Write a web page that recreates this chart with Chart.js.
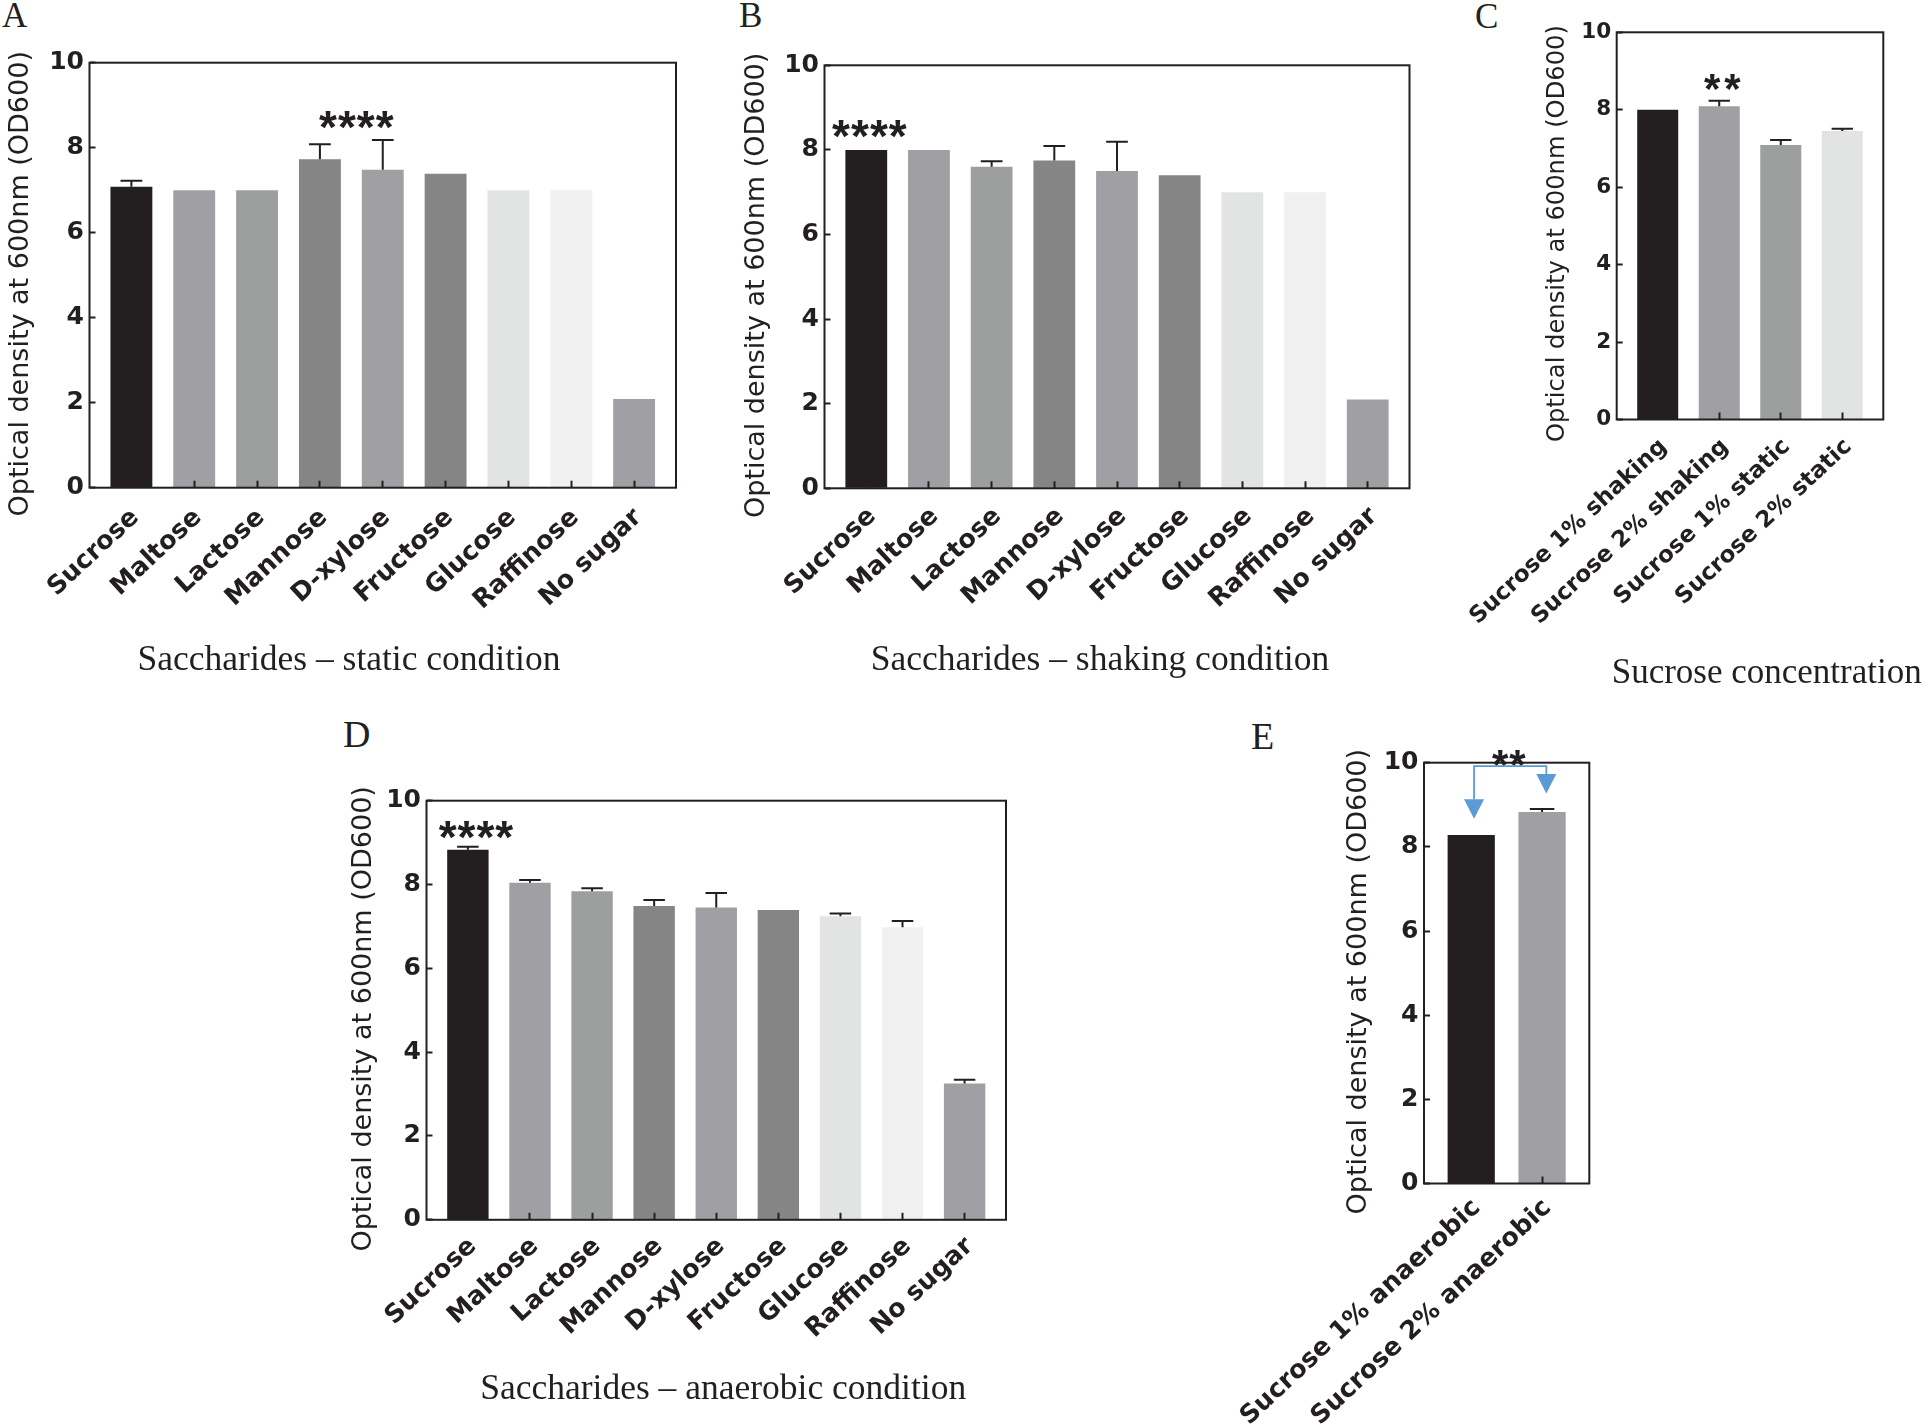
<!DOCTYPE html>
<html>
<head>
<meta charset="utf-8">
<script src="https://cdn.jsdelivr.net/npm/chart.js@4.4.1/dist/chart.umd.min.js"></script>
<style>
html, body { margin: 0; padding: 0; background: #ffffff; overflow: hidden; width: 1925px; height: 1426px; position: relative; }
canvas { position: absolute; }
.letter { position: absolute; font-family: "Liberation Serif", "Times New Roman", serif; color: #231f20; line-height: 1; white-space: nowrap; }
</style>
</head>
<body>
<div class="letter" id="letterA">A</div>
<div class="letter" id="letterB">B</div>
<div class="letter" id="letterC">C</div>
<div class="letter" id="letterD">D</div>
<div class="letter" id="letterE">E</div>
<canvas id="chartA"></canvas>
<canvas id="chartB"></canvas>
<canvas id="chartC"></canvas>
<canvas id="chartD"></canvas>
<canvas id="chartE"></canvas>
<script>
// ---------------- DATA ----------------
const sugarCategories = ['Sucrose', 'Maltose', 'Lactose', 'Mannose', 'D-xylose', 'Fructose', 'Glucose', 'Raffinose', 'No sugar'];

const staticValues = [7.08, 7.0, 7.0, 7.73, 7.48, 7.39, 7.0, 7.0, 2.09];
const staticErrors = [0.14, 0, 0, 0.35, 0.70, 0, 0, 0, 0];

const shakingValues = [8.0, 8.0, 7.6, 7.75, 7.5, 7.4, 7.0, 7.0, 2.1];
const shakingErrors = [0, 0, 0.13, 0.34, 0.69, 0, 0, 0, 0];

const concentrationCategories = ['Sucrose 1% shaking', 'Sucrose 2% shaking', 'Sucrose 1% static', 'Sucrose 2% static'];
const concentrationValues = [8.0, 8.09, 7.09, 7.45];
const concentrationErrors = [0, 0.14, 0.13, 0.06];

const anaerobicValues = [8.83, 8.04, 7.84, 7.49, 7.45, 7.39, 7.24, 6.98, 3.25];
const anaerobicErrors = [0.07, 0.07, 0.07, 0.14, 0.35, 0, 0.07, 0.15, 0.09];

const anaerobicSucroseCategories = ['Sucrose 1% anaerobic', 'Sucrose 2% anaerobic'];
const anaerobicSucroseValues = [8.28, 8.83];
const anaerobicSucroseErrors = [0, 0.07];

const yTickValues = [0, 2, 4, 6, 8, 10];
const yAxisTitle = 'Optical density at 600nm (OD600)';

// significance marks (data units: category index, OD value)
const staticSig = [{ text: '****', x: 3.58, y: 8.73 }];
const shakingSig = [{ text: '****', x: 0.05, y: 8.59 }];
const concentrationSig = [{ text: '**', x: 1.05, y: 8.81 }];
const anaerobicSig = [{ text: '****', x: 0.13, y: 9.38 }];
const anaerobicSucroseSig = [{ text: '**', x: 0.53, y: 10.2 }];
// comparison bracket in panel E (data units)
const anaerobicBracket = { y: 9.92, from: 0.04, to: 1.06, leftTop: 9.13, leftTip: 8.67, rightTop: 9.73, rightTip: 9.27 };

// ---------------- STYLE ----------------
const INK = '#231f20';
const BLUE = '#5b9bd5';
const SANS = '"DejaVu Sans", "Liberation Sans", Arial, sans-serif';
const STAR = '"Liberation Sans", Arial, sans-serif';
const SERIF = '"Liberation Serif", "Times New Roman", serif';
const sugarColors = ['#231f20', '#a09fa4', '#9d9f9e', '#858585', '#a09fa4', '#858585', '#e2e3e3', '#eff0ef', '#a09fa4'];
const concentrationColors = ['#231f20', '#a09fa4', '#9d9f9e', '#e2e3e3'];
const anaerobicSucroseColors = ['#231f20', '#a09fa4'];

// ---------------- PLUGINS ----------------
const framePlugin = {
  id: 'frame',
  afterDraw(chart) {
    const a = chart.chartArea, ctx = chart.ctx;
    ctx.save();
    ctx.strokeStyle = INK; ctx.lineWidth = 2;
    ctx.strokeRect(a.left, a.top, a.right - a.left, a.bottom - a.top);
    ctx.restore();
  }
};

const errorBarPlugin = {
  id: 'errorBars',
  afterDatasetsDraw(chart) {
    const ds = chart.data.datasets[0];
    const meta = chart.getDatasetMeta(0);
    const ys = chart.scales.y;
    const ctx = chart.ctx;
    ctx.save();
    ctx.strokeStyle = INK; ctx.lineWidth = 2;
    meta.data.forEach((bar, i) => {
      const e = ds.errors[i];
      if (!e) return;
      const top = ys.getPixelForValue(ds.data[i].y + e);
      const half = bar.width * 0.26;
      ctx.beginPath();
      ctx.moveTo(bar.x, bar.y); ctx.lineTo(bar.x, top);
      ctx.moveTo(bar.x - half, top); ctx.lineTo(bar.x + half, top);
      ctx.stroke();
    });
    ctx.restore();
  }
};

const sigPlugin = {
  id: 'sigMarks',
  afterDraw(chart, args, opts) {
    const marks = opts.marks || [];
    const xs = chart.scales.x, ys = chart.scales.y, ctx = chart.ctx;
    ctx.save();
    ctx.fillStyle = INK;
    ctx.font = 'bold ' + opts.size + 'px ' + STAR;
    if ('letterSpacing' in ctx) ctx.letterSpacing = opts.spacing + 'px';
    ctx.textAlign = 'center';
    ctx.textBaseline = 'alphabetic';
    marks.forEach(m => {
      ctx.fillText(m.text, xs.getPixelForValue(m.x) + opts.spacing / 2, ys.getPixelForValue(m.y) + 0.58 * opts.size);
    });
    if ('letterSpacing' in ctx) ctx.letterSpacing = '0px';
    const br = opts.bracket;
    if (br) {
      const y0 = ys.getPixelForValue(br.y);
      const xl = xs.getPixelForValue(br.from), xr = xs.getPixelForValue(br.to);
      ctx.strokeStyle = BLUE; ctx.fillStyle = BLUE; ctx.lineWidth = 1.8;
      ctx.beginPath();
      ctx.moveTo(xl, ys.getPixelForValue(br.leftTop)); ctx.lineTo(xl, y0); ctx.lineTo(xr, y0); ctx.lineTo(xr, ys.getPixelForValue(br.rightTop));
      ctx.stroke();
      const tri = (x, t, b) => {
        const yt = ys.getPixelForValue(t), yb = ys.getPixelForValue(b);
        ctx.beginPath(); ctx.moveTo(x - 10, yt); ctx.lineTo(x + 10, yt); ctx.lineTo(x, yb); ctx.closePath(); ctx.fill();
      };
      tri(xl, br.leftTop, br.leftTip);
      tri(xr, br.rightTop, br.rightTip);
    }
    ctx.restore();
  }
};

function noPad(s) { s.paddingLeft = 0; s.paddingRight = 0; s.paddingTop = 0; s.paddingBottom = 0; }

// ---------------- PANEL BUILDER ----------------
function buildPanel(id, p) {
  const { L, R, T, B } = p.frame;
  const lhY = p.yTitleSize * 1.2;
  const S = p.yTitleX - lhY / 2;
  let TR = R, lhC = 0, hX = p.xAxisHeight;
  if (p.caption) {
    TR = 2 * p.caption.x - S;
    lhC = p.caption.size * 1.2;
    hX = p.caption.mid - lhC / 2 - B;
  }
  const wR = TR - R;
  const x0 = Math.floor(S) - (p.extraLeft || 0), y0 = Math.floor(T - p.padTop);
  const W = Math.ceil(TR) - x0 + 1;
  const H = Math.ceil(B + hX + lhC + p.padBottom) - y0;
  const padding = { left: S - x0, right: x0 + W - TR, top: T - y0, bottom: (y0 + H) - (B + hX + lhC) };

  const canvas = document.getElementById(id);
  canvas.width = W; canvas.height = H;
  canvas.style.left = x0 + 'px'; canvas.style.top = y0 + 'px';
  canvas.style.width = W + 'px'; canvas.style.height = H + 'px';

  const cats = p.categories;
  const scales = {
    x: {
      type: 'linear', position: 'bottom', bounds: 'data', offset: false,
      min: -2 / 3, max: cats.length - 1 + 2 / 3,
      afterBuildTicks: s => { s.ticks = cats.map((c, i) => ({ value: i })); },
      afterFit: s => { s.height = hX; noPad(s); },
      grid: { display: true, offset: false, drawOnChartArea: false, drawTicks: true, tickLength: -7, tickWidth: 2, tickColor: INK, z: 1 },
      border: { display: false },
      ticks: {
        autoSkip: false, maxRotation: 43, minRotation: 43,
        labelOffset: p.labelOffset, padding: p.labelPad, color: INK,
        font: { family: SANS, weight: 'bold', size: p.labelSize },
        callback: (v, i) => cats[i]
      }
    },
    y: {
      type: 'linear', position: 'left', min: 0, max: 10,
      afterBuildTicks: s => { s.ticks = yTickValues.map(v => ({ value: v })); },
      afterFit: s => { s.width = L - S; noPad(s); },
      grid: { display: true, drawOnChartArea: false, drawTicks: true, tickLength: -6, tickWidth: 2, tickColor: INK, z: 1 },
      border: { display: false },
      ticks: { padding: 11.5, color: INK, font: { family: SANS, weight: 'bold', size: p.tickSize } },
      title: {
        display: true, text: yAxisTitle + '  ', color: INK,
        font: { family: SANS, size: p.yTitleSize, weight: 'normal', lineHeight: 1.2 },
        padding: { top: 0, bottom: 0 }
      }
    }
  };
  if (wR > 0.5) {
    scales.yR = {
      type: 'linear', position: 'right', display: true,
      afterFit: s => { s.width = wR; noPad(s); },
      grid: { display: false }, border: { display: false }, ticks: { display: false }
    };
  }

  return new Chart(canvas, {
    type: 'bar',
    data: {
      datasets: [{
        data: p.values.map((v, i) => ({ x: i, y: v })),
        errors: p.errors,
        backgroundColor: p.colors,
        borderWidth: 0,
        categoryPercentage: 1,
        barPercentage: 2 / 3,
        xAxisID: 'x', yAxisID: 'y'
      }]
    },
    options: {
      responsive: false, maintainAspectRatio: false, animation: false, devicePixelRatio: 1,
      layout: { padding },
      events: [],
      plugins: {
        legend: { display: false },
        tooltip: { enabled: false },
        title: p.caption ? {
          display: true, position: 'bottom', align: 'center', text: p.caption.text, color: INK,
          font: { family: SERIF, size: p.caption.size, weight: 'normal', lineHeight: 1.2 }, padding: 0
        } : { display: false },
        sigMarks: { marks: p.sig, size: p.sigSize, spacing: p.sigSpacing, bracket: p.bracket || null }
      },
      scales
    },
    plugins: [errorBarPlugin, framePlugin, sigPlugin]
  });
}

function placeLetter(id, left, baseline, size) {
  const el = document.getElementById(id);
  el.style.fontSize = size + 'px';
  el.style.left = left + 'px';
  el.style.top = (baseline - size * (0.891 - (1.107 - 1) / 2)) + 'px';
}

placeLetter('letterA', 2, 27.5, 35);
placeLetter('letterB', 739, 27.5, 35);
placeLetter('letterC', 1475, 28, 35);
placeLetter('letterD', 343, 747, 38);
placeLetter('letterE', 1251, 749, 38);

buildPanel('chartA', {
  categories: sugarCategories, values: staticValues, errors: staticErrors, colors: sugarColors,
  sig: staticSig, sigSize: 46, sigSpacing: 1,
  frame: { L: 89.5, R: 676, T: 62.7, B: 487.7 },
  yTitleX: 21, yTitleSize: 27, tickSize: 25,
  labelSize: 25.5, labelPad: 22, labelOffset: 4,
  caption: { text: 'Saccharides \u2013 static condition', x: 349, mid: 661, size: 35.5 },
  padTop: 60, padBottom: 10
});

buildPanel('chartB', {
  categories: sugarCategories, values: shakingValues, errors: shakingErrors, colors: sugarColors,
  sig: shakingSig, sigSize: 46, sigSpacing: 1,
  frame: { L: 824.5, R: 1409.5, T: 65.3, B: 488.3 },
  yTitleX: 756.5, yTitleSize: 27, tickSize: 25,
  labelSize: 25.5, labelPad: 20, labelOffset: 6,
  caption: { text: 'Saccharides \u2013 shaking condition', x: 1100, mid: 660.5, size: 35.5 },
  padTop: 60, padBottom: 10
});

buildPanel('chartC', {
  categories: concentrationCategories, values: concentrationValues, errors: concentrationErrors, colors: concentrationColors,
  sig: concentrationSig, sigSize: 42, sigSpacing: 4,
  frame: { L: 1616.7, R: 1883.3, T: 32.3, B: 419.5 },
  yTitleX: 1558, yTitleSize: 24.2, tickSize: 21.5,
  labelSize: 23, labelPad: 20.8, labelOffset: 6,
  caption: { text: 'Sucrose concentration', x: 1766.7, mid: 673.5, size: 35 },
  padTop: 30, padBottom: 10, extraLeft: 110
});

buildPanel('chartD', {
  categories: sugarCategories, values: anaerobicValues, errors: anaerobicErrors, colors: sugarColors,
  sig: anaerobicSig, sigSize: 46, sigSpacing: 1,
  frame: { L: 426.5, R: 1006, T: 800.7, B: 1219.8 },
  yTitleX: 363.5, yTitleSize: 27, tickSize: 25,
  labelSize: 25.5, labelPad: 18.5, labelOffset: 5,
  caption: { text: 'Saccharides \u2013 anaerobic condition', x: 723.2, mid: 1389.5, size: 35.5 },
  padTop: 60, padBottom: 10
});

buildPanel('chartE', {
  categories: anaerobicSucroseCategories, values: anaerobicSucroseValues, errors: anaerobicSucroseErrors, colors: anaerobicSucroseColors,
  sig: anaerobicSucroseSig, sigSize: 42, sigSpacing: 1, bracket: anaerobicBracket,
  frame: { L: 1424, R: 1589.3, T: 762.7, B: 1183.5 },
  yTitleX: 1359, yTitleSize: 27, tickSize: 25,
  labelSize: 25.5, labelPad: 16.5, labelOffset: 5.5,
  caption: null, xAxisHeight: 242,
  padTop: 50, padBottom: 0, extraLeft: 140
});
</script>
</body>
</html>
